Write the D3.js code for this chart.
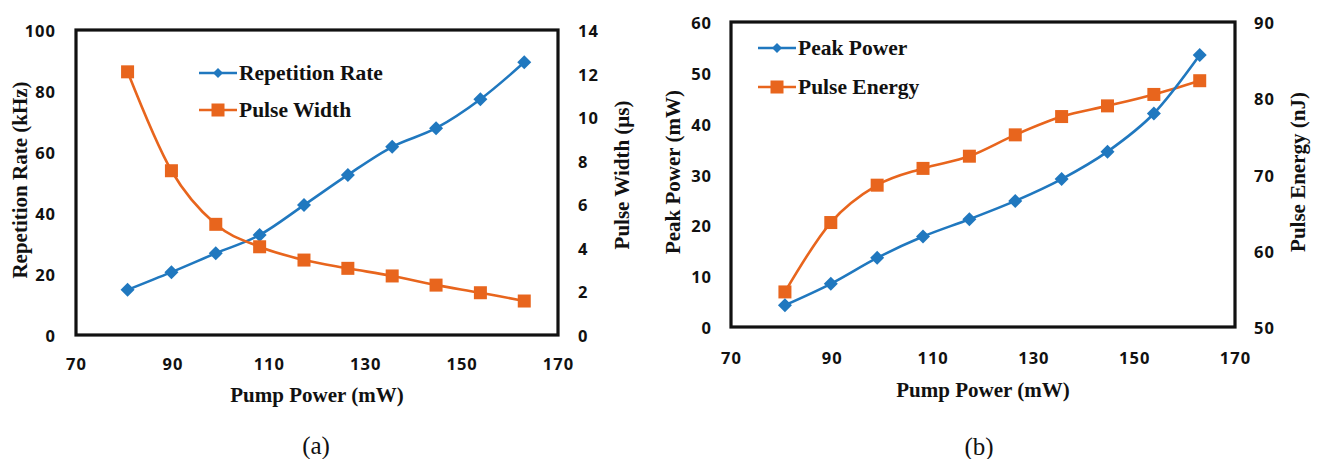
<!DOCTYPE html>
<html>
<head>
<meta charset="utf-8">
<script src="https://cdn.jsdelivr.net/npm/d3@7"></script>
<style>
  html, body { margin: 0; padding: 0; background: #fff; }
  svg { display: block; }
  .tick-label { font-family: "Open Sans", sans-serif; font-weight: 700; font-size: 16.5px; letter-spacing: 1px; fill: #111; }
  .title { font-family: "Liberation Serif", "Times New Roman", serif; font-weight: 700; font-size: 21px; fill: #111; }
  .legend { font-family: "Liberation Serif", "Times New Roman", serif; font-weight: 700; font-size: 21.5px; fill: #111; }
  .caption { font-family: "Liberation Serif", "Times New Roman", serif; font-size: 25px; fill: #111; }
</style>
</head>
<body>
<svg id="chart" width="1320" height="459"></svg>
<script>
// Shared x values (pump power, mW)
const pumpPower = [80.7, 89.8, 99.0, 108.1, 117.3, 126.4, 135.6, 144.7, 153.9, 163.0];

// Panel (a)
const repetitionRate = [14.8, 20.6, 26.8, 32.8, 42.6, 52.5, 61.7, 67.8, 77.3, 89.4];   // kHz
const pulseWidth = [12.08, 7.54, 5.08, 4.05, 3.44, 3.06, 2.71, 2.29, 1.94, 1.56];        // µs

// Panel (b)
const peakPower = [4.3, 8.5, 13.6, 17.8, 21.2, 24.8, 29.1, 34.5, 42.0, 53.5];           // mW
const pulseEnergy = [54.6, 63.7, 68.6, 70.8, 72.4, 75.2, 77.6, 79.0, 80.5, 82.3];       // nJ

// Tick values
const xTicks = [70, 90, 110, 130, 150, 170];
const repTicks = [0, 20, 40, 60, 80, 100];
const widthTicks = [0, 2, 4, 6, 8, 10, 12, 14];
const peakTicks = [0, 10, 20, 30, 40, 50, 60];
const energyTicks = [50, 60, 70, 80, 90];

const BLUE = "#2078bf";
const ORANGE = "#e8651d";

const svg = d3.select("#chart");

function drawPanel(p) {
  const g = svg.append("g");
  const x = d3.scaleLinear().domain([70, 170]).range([p.left, p.right]);
  const yL = d3.scaleLinear().domain(p.leftDomain).range([p.bottom, p.top]);
  const yR = d3.scaleLinear().domain(p.rightDomain).range([p.bottom, p.top]);

  // plot frame
  g.append("rect")
    .attr("x", p.left).attr("y", p.top)
    .attr("width", p.right - p.left).attr("height", p.bottom - p.top)
    .attr("fill", "#fff").attr("stroke", "#111").attr("stroke-width", 3.2);

  // axes without tick marks or domain lines; labels only
  const axB = d3.axisBottom(x).tickValues(xTicks).tickSize(0).tickPadding(0);
  const axL = d3.axisLeft(yL).tickValues(p.leftTicks).tickSize(0).tickPadding(0);
  const axR = d3.axisRight(yR).tickValues(p.rightTicks).tickSize(0).tickPadding(0);

  const gb = g.append("g").attr("transform", `translate(0,${p.xLabelY})`).call(axB);
  const gl = g.append("g").attr("transform", `translate(${p.left - p.yLabelGap},0)`).call(axL);
  const gr = g.append("g").attr("transform", `translate(${p.right + p.yLabelGap},0)`).call(axR);
  [gb, gl, gr].forEach(a => {
    a.attr("font-size", null).attr("font-family", null);
    a.select(".domain").remove();
    a.selectAll("text").attr("class", "tick-label").attr("dy", null)
      .attr("dominant-baseline", "central");
  });
  gb.selectAll("text").attr("y", 0);

  // series
  const series = [
    { values: p.leftValues, y: yL, color: BLUE, marker: "diamond" },
    { values: p.rightValues, y: yR, color: ORANGE, marker: "square" }
  ];
  const order = p.blueOnTop ? [1, 0] : [0, 1];
  order.forEach(i => {
    const s = series[i];
    const pts = pumpPower.map((v, k) => [x(v), s.y(s.values[k])]);
    g.append("path")
      .attr("d", d3.line().curve(d3.curveCardinal.tension(0))(pts))
      .attr("fill", "none").attr("stroke", s.color).attr("stroke-width", 2.6);
    drawMarkers(g, pts, s.marker, s.color);
  });

  // legend
  p.legend.forEach((item, i) => {
    const ly = p.legendY[i];
    const color = i === 0 ? BLUE : ORANGE;
    g.append("line")
      .attr("x1", p.legendX).attr("x2", p.legendX + 38)
      .attr("y1", ly).attr("y2", ly)
      .attr("stroke", color).attr("stroke-width", 2.6);
    drawMarkers(g, [[p.legendX + 19, ly]], i === 0 ? "diamond-small" : "square", color);
    g.append("text").attr("class", "legend")
      .attr("x", p.legendX + 40).attr("y", ly)
      .attr("dominant-baseline", "central").text(item);
  });

  // axis titles
  g.append("text").attr("class", "title")
    .attr("x", (p.left + p.right) / 2).attr("y", p.xTitleY)
    .attr("text-anchor", "middle").attr("dominant-baseline", "central")
    .text("Pump Power (mW)");
  g.append("text").attr("class", "title")
    .attr("transform", `translate(${p.leftTitleX},${p.leftTitleY}) rotate(-90)`)
    .attr("text-anchor", "middle").attr("dominant-baseline", "central")
    .text(p.leftTitle);
  g.append("text").attr("class", "title")
    .attr("transform", `translate(${p.rightTitleX},${p.rightTitleY}) rotate(-90)`)
    .attr("text-anchor", "middle").attr("dominant-baseline", "central")
    .text(p.rightTitle);

  // panel caption
  g.append("text").attr("class", "caption")
    .attr("x", p.captionX).attr("y", p.captionY)
    .attr("text-anchor", "middle").attr("dominant-baseline", "central")
    .text(p.caption);
}

function drawMarkers(g, pts, type, color) {
  pts.forEach(([cx, cy]) => {
    if (type === "square") {
      g.append("rect").attr("x", cx - 6.5).attr("y", cy - 6.5)
        .attr("width", 13).attr("height", 13).attr("fill", color);
    } else {
      const r = type === "diamond" ? 7 : 5;
      g.append("path")
        .attr("d", `M${cx},${cy - r}L${cx + r},${cy}L${cx},${cy + r}L${cx - r},${cy}Z`)
        .attr("fill", color);
    }
  });
}

drawPanel({
  left: 76, right: 558, top: 30, bottom: 335,
  leftDomain: [0, 100], rightDomain: [0, 14],
  leftTicks: repTicks, rightTicks: widthTicks,
  leftValues: repetitionRate, rightValues: pulseWidth,
  blueOnTop: false,
  xLabelY: 363, yLabelGap: 20, xTitleY: 395,
  leftTitle: "Repetition Rate (kHz)", leftTitleX: 20, leftTitleY: 180,
  rightTitle: "Pulse Width (\u03bcs)", rightTitleX: 622, rightTitleY: 175,
  legend: ["Repetition Rate", "Pulse Width"], legendX: 199, legendY: [73, 110],
  caption: "(a)", captionX: 316, captionY: 445
});

drawPanel({
  left: 731, right: 1235, top: 22, bottom: 327,
  leftDomain: [0, 60], rightDomain: [50, 90],
  leftTicks: peakTicks, rightTicks: energyTicks,
  leftValues: peakPower, rightValues: pulseEnergy,
  blueOnTop: true,
  xLabelY: 357, yLabelGap: 19, xTitleY: 390,
  leftTitle: "Peak Power (mW)", leftTitleX: 673, leftTitleY: 172,
  rightTitle: "Pulse Energy (nJ)", rightTitleX: 1298, rightTitleY: 172,
  legend: ["Peak Power", "Pulse Energy"], legendX: 758, legendY: [48, 87],
  caption: "(b)", captionX: 979, captionY: 446
});
</script>
</body>
</html>
